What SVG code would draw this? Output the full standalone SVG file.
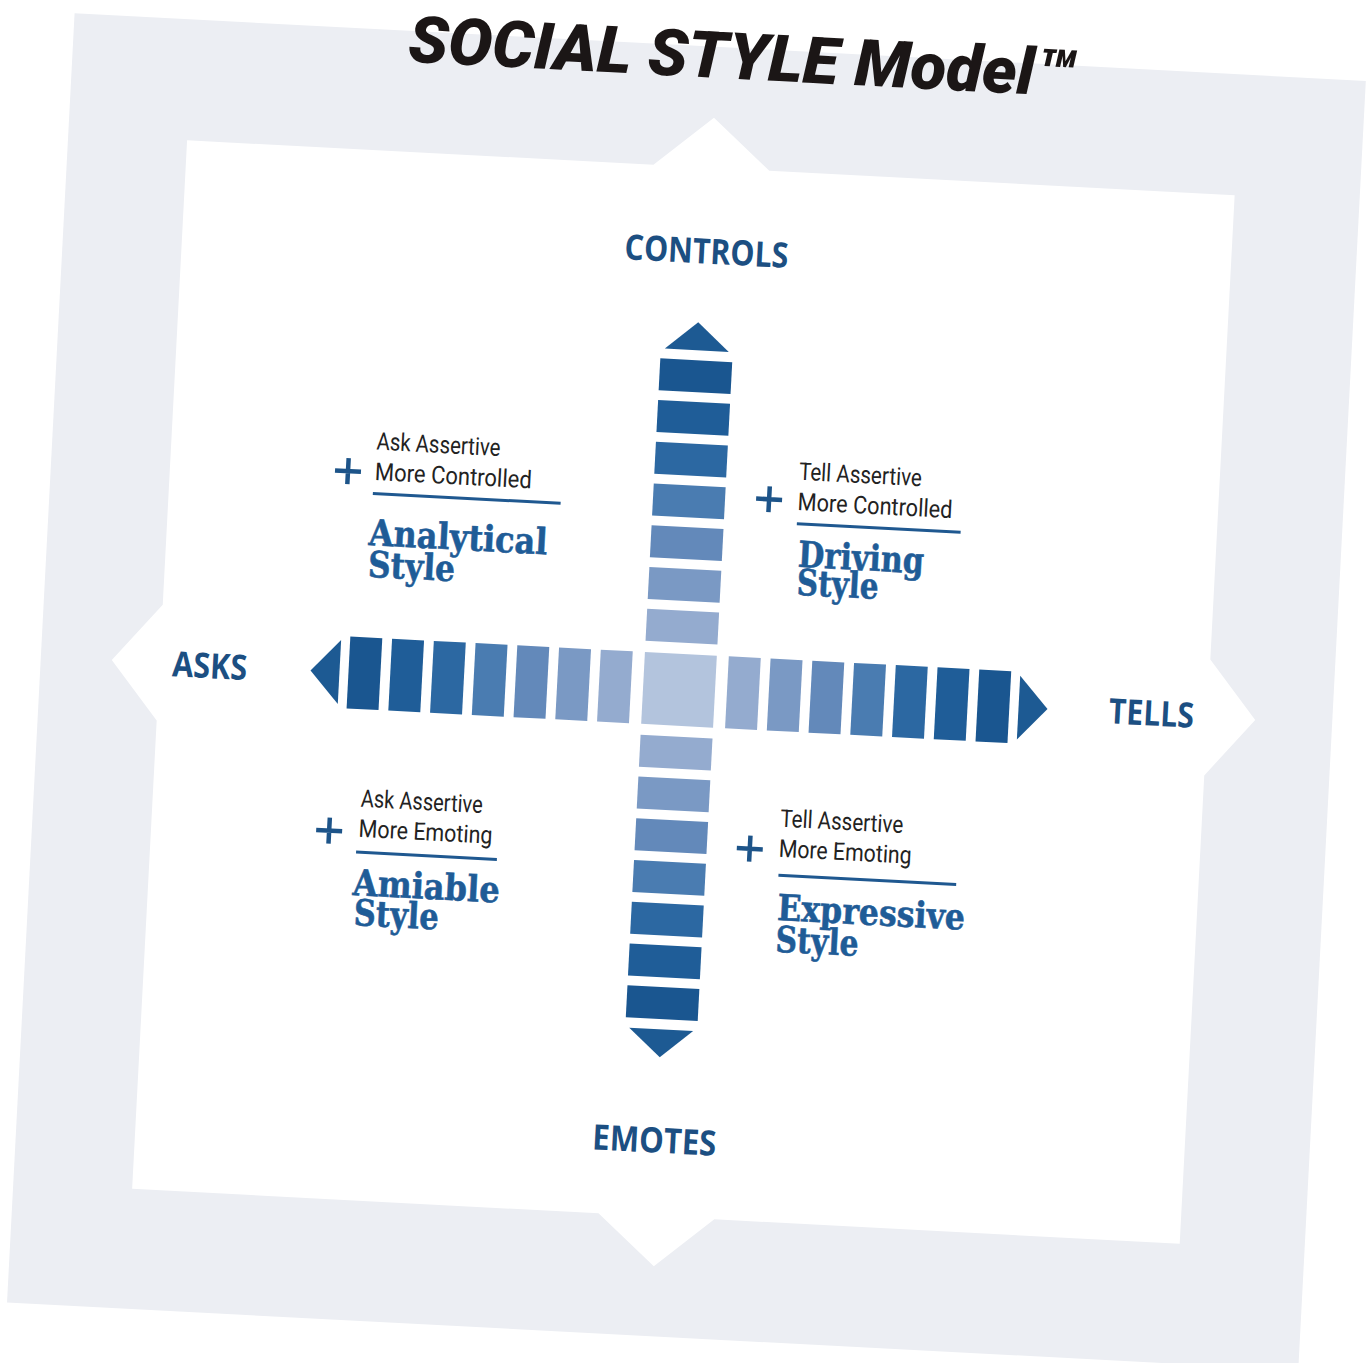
<svg xmlns="http://www.w3.org/2000/svg" width="1366" height="1363" viewBox="0 0 1366 1363">
<style>
.lbl{font-family:'Open Sans','Liberation Sans',sans-serif;font-weight:700;font-size:35px;fill:#1c4f82}
.sm{font-family:Roboto,'Liberation Sans',sans-serif;font-weight:400;font-size:24.5px;fill:#222}
.bd{font-family:'DejaVu Serif',serif;font-weight:bold;font-size:36px;fill:#1f5c97;stroke:#1f5c97;stroke-width:0.6}
.ttl{font-family:Roboto,'Liberation Sans',sans-serif;font-weight:900;font-style:italic;font-size:65px;fill:#1b1616}
.rule{stroke:#1f5890;stroke-width:3}
.plus{stroke:#1d5489;stroke-width:4.5;fill:none}
.tri{fill:#1d5a93}
.c1{fill:#1a5690}.c2{fill:#1f5d98}.c3{fill:#2c68a2}.c4{fill:#4a7cb1}.c5{fill:#6389ba}.c6{fill:#7a99c4}.c7{fill:#94abcf}.c0{fill:#b3c4dd}
</style>
<rect width="1366" height="1363" fill="#ffffff"/>
<g transform="rotate(3 683 690)">
  <g id="frame">
    <rect x="40" y="46" width="1293" height="1291" fill="#eceef3"/>
    <polygon fill="#ffffff" points="159,167 626,167 684,117 742,167 1208,167 1208,632 1256,690 1208,748 1208,1217 742,1217 684,1267 626,1217 159,1217 159,748 111,690 159,632"/>
  </g>
  <g id="title">
    <text class="ttl" x="375" y="77" textLength="667" lengthAdjust="spacingAndGlyphs">SOCIAL STYLE Model™</text>
  </g>
  <g id="connectors">
    <g id="axis-horizontal">
      <polygon class="tri" points="339,658 310,690 339,722"/>
      <rect class="c1" x="348" y="654" width="32" height="72"/>
      <rect class="c2" x="389.8" y="654" width="32" height="72"/>
      <rect class="c3" x="431.6" y="654" width="32" height="72"/>
      <rect class="c4" x="473.4" y="654" width="32" height="72"/>
      <rect class="c5" x="515.2" y="654" width="32" height="72"/>
      <rect class="c6" x="557" y="654" width="32" height="72"/>
      <rect class="c7" x="598.8" y="654" width="32" height="72"/>
      <rect class="c7" x="727" y="654" width="32" height="72"/>
      <rect class="c6" x="768.8" y="654" width="32" height="72"/>
      <rect class="c5" x="810.6" y="654" width="32" height="72"/>
      <rect class="c4" x="852.4" y="654" width="32" height="72"/>
      <rect class="c3" x="894.2" y="654" width="32" height="72"/>
      <rect class="c2" x="936" y="654" width="32" height="72"/>
      <rect class="c1" x="977.8" y="654" width="32" height="72"/>
      <polygon class="tri" points="1019,658 1048,690 1019,722"/>
    </g>
    <g id="axis-vertical">
      <polygon class="tri" points="647,350 679,322 711,350"/>
      <rect class="c1" x="643" y="360" width="72" height="32"/>
      <rect class="c2" x="643" y="401.8" width="72" height="32"/>
      <rect class="c3" x="643" y="443.6" width="72" height="32"/>
      <rect class="c4" x="643" y="485.4" width="72" height="32"/>
      <rect class="c5" x="643" y="527.2" width="72" height="32"/>
      <rect class="c6" x="643" y="569" width="72" height="32"/>
      <rect class="c7" x="643" y="610.8" width="72" height="32"/>
      <rect class="c7" x="643" y="737" width="72" height="32"/>
      <rect class="c6" x="643" y="778.8" width="72" height="32"/>
      <rect class="c5" x="643" y="820.6" width="72" height="32"/>
      <rect class="c4" x="643" y="862.4" width="72" height="32"/>
      <rect class="c3" x="643" y="904.2" width="72" height="32"/>
      <rect class="c2" x="643" y="946" width="72" height="32"/>
      <rect class="c1" x="643" y="987.8" width="72" height="32"/>
      <polygon class="tri" points="647,1030 679,1058 711,1030"/>
    </g>
    <rect id="center" class="c0" x="643" y="654" width="72" height="72"/>
  </g>
  <g id="label-controls"><text class="lbl" x="601.6" y="263" textLength="164" lengthAdjust="spacingAndGlyphs">CONTROLS</text></g>
  <g id="label-asks"><text class="lbl" x="171.7" y="703" textLength="75" lengthAdjust="spacingAndGlyphs">ASKS</text></g>
  <g id="label-tells"><text class="lbl" x="1109.5" y="701" textLength="85" lengthAdjust="spacingAndGlyphs">TELLS</text></g>
  <g id="label-emotes"><text class="lbl" x="616" y="1153.5" textLength="124" lengthAdjust="spacingAndGlyphs">EMOTES</text></g>
  <g id="analytical">
    <path class="plus" d="M324,489h26M337,476v26"/>
    <text class="sm" x="364" y="466" textLength="124" lengthAdjust="spacingAndGlyphs">Ask Assertive</text>
    <text class="sm" x="364" y="496.5" textLength="157" lengthAdjust="spacingAndGlyphs">More Controlled</text>
    <line class="rule" x1="363" y1="510" x2="551" y2="510"/>
    <text class="bd" x="361" y="561.7" textLength="179" lengthAdjust="spacingAndGlyphs">Analytical</text>
    <text class="bd" x="362" y="593.4" textLength="87" lengthAdjust="spacingAndGlyphs">Style</text>
  </g>
  <g id="driving">
    <path class="plus" d="M746,495h26M759,482v26"/>
    <text class="sm" x="787.5" y="474" textLength="123" lengthAdjust="spacingAndGlyphs">Tell Assertive</text>
    <text class="sm" x="787.7" y="504.3" textLength="155" lengthAdjust="spacingAndGlyphs">More Controlled</text>
    <line class="rule" x1="788" y1="518" x2="952" y2="518"/>
    <text class="bd" x="791" y="561" textLength="126" lengthAdjust="spacingAndGlyphs">Driving</text>
    <text class="bd" x="791" y="589" textLength="82" lengthAdjust="spacingAndGlyphs">Style</text>
  </g>
  <g id="amiable">
    <path class="plus" d="M324,849h26M337,836v26"/>
    <text class="sm" x="367" y="823.4" textLength="122" lengthAdjust="spacingAndGlyphs">Ask Assertive</text>
    <text class="sm" x="366.4" y="853.5" textLength="134" lengthAdjust="spacingAndGlyphs">More Emoting</text>
    <line class="rule" x1="365" y1="869" x2="506" y2="869"/>
    <text class="bd" x="363.5" y="912" textLength="147" lengthAdjust="spacingAndGlyphs">Amiable</text>
    <text class="bd" x="366" y="942" textLength="85" lengthAdjust="spacingAndGlyphs">Style</text>
  </g>
  <g id="expressive">
    <path class="plus" d="M745,845h26M758,832v26"/>
    <text class="sm" x="787" y="821.4" textLength="123" lengthAdjust="spacingAndGlyphs">Tell Assertive</text>
    <text class="sm" x="787" y="851.5" textLength="133" lengthAdjust="spacingAndGlyphs">More Emoting</text>
    <line class="rule" x1="788" y1="870" x2="966" y2="870"/>
    <text class="bd" x="788.6" y="914.8" textLength="188" lengthAdjust="spacingAndGlyphs">Expressive</text>
    <text class="bd" x="788.6" y="946.5" textLength="83" lengthAdjust="spacingAndGlyphs">Style</text>
  </g>
</g>
</svg>
